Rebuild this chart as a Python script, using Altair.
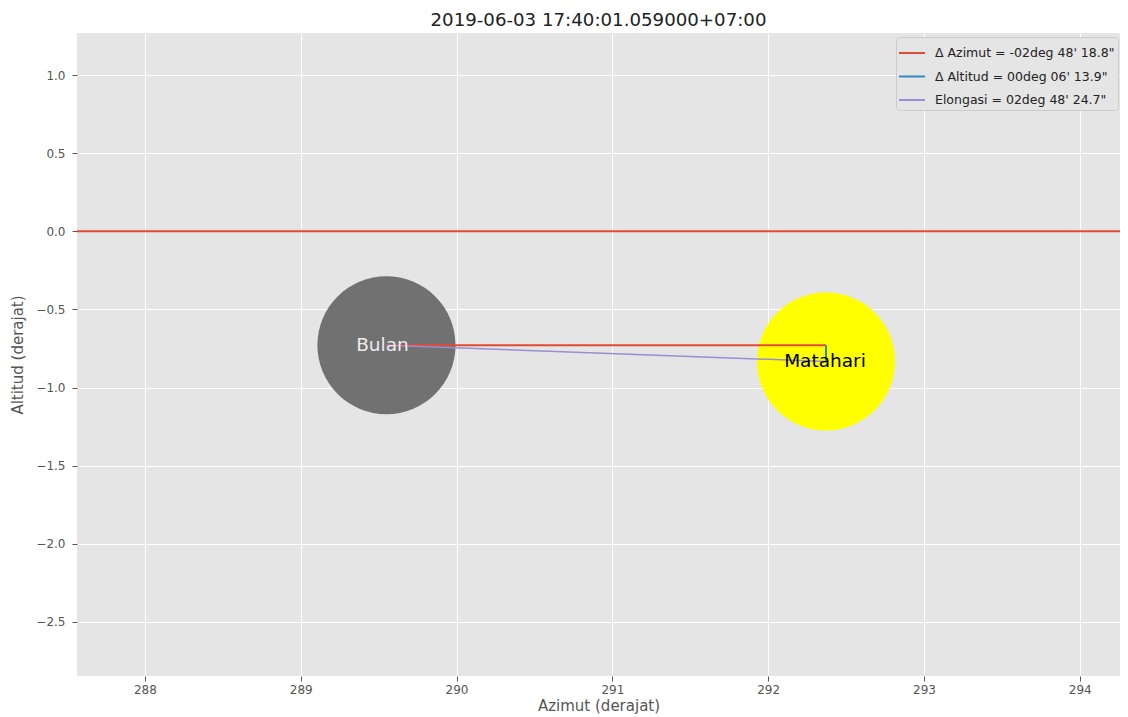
import altair as alt
import pandas as pd
import math

# ---- data ----
title_text = "2019-06-03 17:40:01.059000+07:00"
body_names = ["Bulan", "Matahari"]
body_az = [289.550, 292.371]
body_alt = [-0.729, -0.833]
body_radius_deg = 0.5

series_names = [
    "Δ Azimut = -02deg 48' 18.8\"",
    "Δ Altitud = 00deg 06' 13.9\"",
    "Elongasi = 02deg 48' 24.7\"",
]
series_colors = ["#E24A33", "#348ABD", "#988ED5"]

x_ticks = [288, 289, 290, 291, 292, 293, 294]
y_ticks = [-2.5, -2.0, -1.5, -1.0, -0.5, 0.0, 0.5, 1.0]
x_domain = [287.564, 294.258]
y_domain = [-2.846, 1.269]
horizon_alt = [0.0]

W, H = 1043, 643
px_per_deg = W / (x_domain[1] - x_domain[0])
circle_area = math.pi * (body_radius_deg * px_per_deg) ** 2

# ---- tables ----
bodies = pd.DataFrame({"name": body_names, "az": body_az, "alt": body_alt})

m_az, s_az = body_az
m_alt, s_alt = body_alt
lines = pd.DataFrame({
    "series": [series_names[0], series_names[0],
               series_names[1], series_names[1],
               series_names[2], series_names[2]],
    "az": [m_az, s_az, s_az, s_az, m_az, s_az],
    "alt": [m_alt, m_alt, m_alt, s_alt, m_alt, s_alt],
    "ord": [0, 1, 0, 1, 0, 1],
})

xs = alt.Scale(domain=x_domain, nice=False, zero=False)
ys = alt.Scale(domain=y_domain, nice=False, zero=False)

xax = alt.Axis(values=x_ticks, format="d", title="Azimut (derajat)", labelPadding=3, titlePadding=3)
yax = alt.Axis(values=y_ticks, format=".1f", title="Altitud (derajat)", labelPadding=7, titlePadding=10)

X = alt.X("az:Q", scale=xs, axis=xax)
Y = alt.Y("alt:Q", scale=ys, axis=yax)

horizon = alt.Chart(pd.DataFrame({"alt": horizon_alt})).mark_rule(color="#E24A33", strokeWidth=2).encode(
    y=alt.Y("alt:Q", scale=ys, axis=yax),
)

base_b = alt.Chart(bodies)
moon = base_b.transform_filter(alt.datum.name == "Bulan").mark_circle(
    opacity=1, color="#717171", size=circle_area).encode(x=X, y=Y)
sun = base_b.transform_filter(alt.datum.name == "Matahari").mark_circle(
    opacity=1, color="#FFFF00", size=circle_area).encode(x=X, y=Y)

line_layer = alt.Chart(lines).mark_line().encode(
    x=X,
    y=Y,
    order="ord:Q",
    strokeWidth=alt.condition(alt.datum.series == series_names[2], alt.value(1.5), alt.value(2)),
    color=alt.Color(
        "series:N",
        scale=alt.Scale(domain=series_names, range=series_colors),
        sort=series_names,
        legend=alt.Legend(
            title=None,
            orient="none",
            legendX=819,
            legendY=4,
            symbolType="M-1.13,0H1.13",
            symbolSize=530,
            symbolStrokeWidth=2,
            labelFontSize=12.5,
            labelColor="#222222",
            labelFont="DejaVu Sans",
            fillColor="#E5E5E5",
            strokeColor="#CCCCCC",
            cornerRadius=3,
            padding=3,
            rowPadding=3.5,
            labelOffset=10,
            labelLimit=300,
        ),
    ),
)

moon_label = base_b.transform_filter(alt.datum.name == "Bulan").mark_text(
    fontSize=18.5, font="DejaVu Sans", baseline="middle", align="center", color="#ECECEC", dx=-4
).encode(x=X, y=Y, text="name:N")
sun_label = base_b.transform_filter(alt.datum.name == "Matahari").mark_text(
    fontSize=18.5, font="DejaVu Sans", baseline="middle", align="center", color="#000000", dx=-1
).encode(x=X, y=Y, text="name:N")

chart = alt.layer(horizon, moon, sun, line_layer, moon_label, sun_label).properties(
    width=W,
    height=H,
    title=alt.TitleParams(title_text, fontSize=18.2, font="DejaVu Sans", fontWeight="normal",
                          color="#222222", anchor="middle", offset=3),
    padding={"left": 69, "top": 25, "right": 0, "bottom": 40},
    autosize=alt.AutoSizeParams(type="none"),
).configure_view(
    fill="#E5E5E5", stroke=None,
).configure_axis(
    grid=True, gridColor="#FFFFFF", gridWidth=1,
    domain=False,
    tickColor="#555555", tickSize=5, tickWidth=1,
    labelColor="#555555", labelFontSize=12, labelFont="DejaVu Sans",
    titleColor="#555555", titleFontSize=15, titleFont="DejaVu Sans", titleFontWeight="normal",
)

chart.save("out.html", embed_options={"renderer": "svg", "actions": False})
